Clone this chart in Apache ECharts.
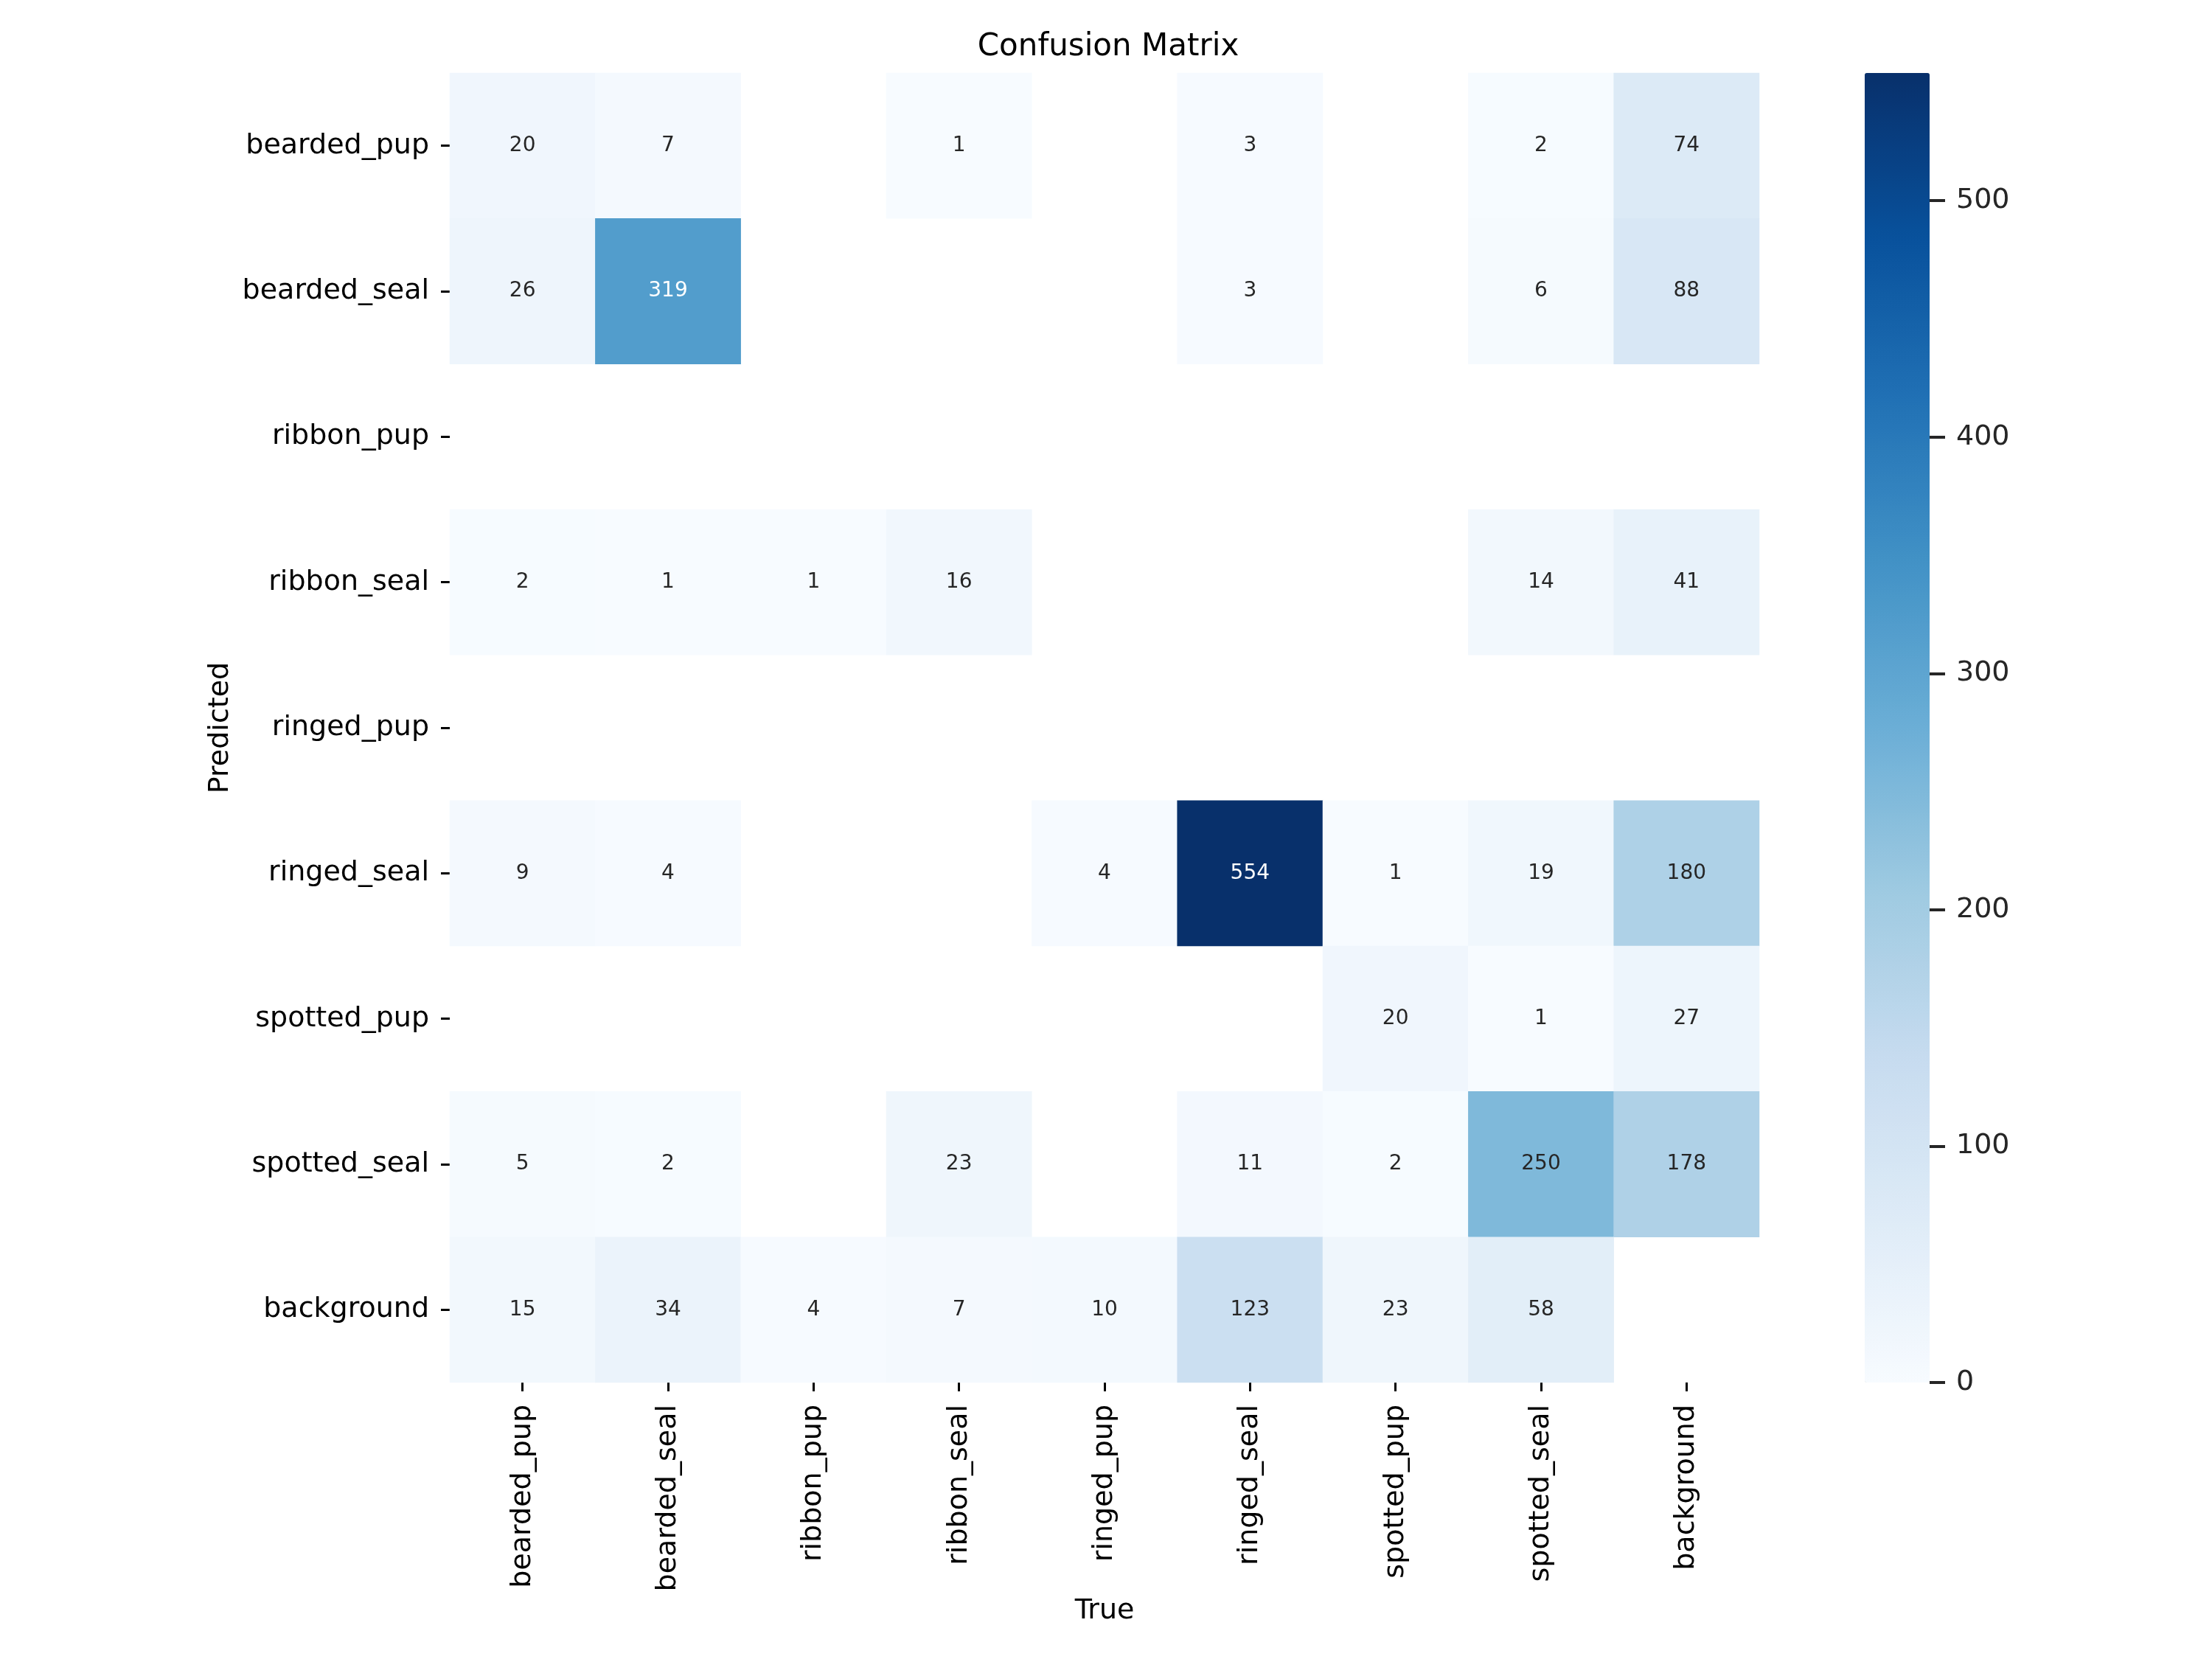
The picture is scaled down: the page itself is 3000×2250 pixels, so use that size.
<!DOCTYPE html>
<html>
<head>
<meta charset="utf-8">
<script src="https://cdn.jsdelivr.net/npm/echarts@6/dist/echarts.min.js"></script>
<style>
html, body { margin: 0; padding: 0; background: #ffffff; }
#chart { width: 3000px; height: 2250px; }
</style>
</head>
<body>
<div id="chart"></div>
<script>
// ---- Data ----
const trueLabels = ["bearded_pup", "bearded_seal", "ribbon_pup", "ribbon_seal", "ringed_pup", "ringed_seal", "spotted_pup", "spotted_seal", "background"];
const predictedLabels = ["bearded_pup", "bearded_seal", "ribbon_pup", "ribbon_seal", "ringed_pup", "ringed_seal", "spotted_pup", "spotted_seal", "background"];
// rows = predicted, columns = true; 0 = empty cell
const rowBeardedPup   = [20, 7, 0, 1, 0, 3, 0, 2, 74];
const rowBeardedSeal  = [26, 319, 0, 0, 0, 3, 0, 6, 88];
const rowRibbonPup    = [0, 0, 0, 0, 0, 0, 0, 0, 0];
const rowRibbonSeal   = [2, 1, 1, 16, 0, 0, 0, 14, 41];
const rowRingedPup    = [0, 0, 0, 0, 0, 0, 0, 0, 0];
const rowRingedSeal   = [9, 4, 0, 0, 4, 554, 1, 19, 180];
const rowSpottedPup   = [0, 0, 0, 0, 0, 0, 20, 1, 27];
const rowSpottedSeal  = [5, 2, 0, 23, 0, 11, 2, 250, 178];
const rowBackground   = [15, 34, 4, 7, 10, 123, 23, 58, 0];
const matrix = [rowBeardedPup, rowBeardedSeal, rowRibbonPup, rowRibbonSeal, rowRingedPup, rowRingedSeal, rowSpottedPup, rowSpottedSeal, rowBackground];
const colorbarMin = 0;
const colorbarMax = 554;
const colorbarInterval = 100;

// Matplotlib "Blues" colormap stops
const blues = ['#f7fbff', '#deebf7', '#c6dbef', '#9ecae1', '#6baed6', '#4292c6', '#2171b5', '#08519c', '#08306b'];

const FONT = 'DejaVu Sans';
const heatData = [];
matrix.forEach(function (row, i) {
  row.forEach(function (v, j) {
    if (v > 0) {
      heatData.push({
        value: [j, i, v],
        label: { color: v > colorbarMax * 0.5 ? '#ffffff' : '#262626' }
      });
    }
  });
});

const chart = echarts.init(document.getElementById('chart'), null, { renderer: 'canvas' });
chart.setOption({
  backgroundColor: '#ffffff',
  animation: false,
  textStyle: { fontFamily: FONT },
  title: {
    text: 'Confusion Matrix',
    left: 1498,
    textAlign: 'center',
    top: 38,
    textStyle: { fontFamily: FONT, fontSize: 42, fontWeight: 'normal', color: '#000000' }
  },
  grid: [
    { left: 610, top: 99, width: 1776, height: 1776, containLabel: false },
    { left: 2529, top: 99, width: 88, height: 1776, containLabel: false }
  ],
  xAxis: [
    {
      type: 'category',
      gridIndex: 0,
      data: trueLabels,
      position: 'bottom',
      name: 'True',
      nameLocation: 'middle',
      nameGap: 290,
      nameTextStyle: { fontFamily: FONT, fontSize: 38, color: '#000000' },
      axisLine: { show: false },
      axisTick: { show: true, alignWithLabel: true, length: 12, lineStyle: { color: '#000000', width: 3 } },
      axisLabel: { rotate: 90, fontSize: 38, color: '#000000', margin: 30, fontFamily: FONT },
      splitLine: { show: false },
      splitArea: { show: false }
    },
    {
      type: 'value',
      gridIndex: 1,
      show: false,
      min: 0,
      max: 1
    }
  ],
  yAxis: [
    {
      type: 'category',
      gridIndex: 0,
      data: predictedLabels,
      inverse: true,
      name: 'Predicted',
      nameLocation: 'middle',
      nameRotate: 90,
      nameGap: 290,
      nameTextStyle: { fontFamily: FONT, fontSize: 38, color: '#000000' },
      axisLine: { show: false },
      axisTick: { show: true, alignWithLabel: true, length: 12, lineStyle: { color: '#000000', width: 3 } },
      axisLabel: { fontSize: 38, color: '#000000', margin: 28, fontFamily: FONT },
      splitLine: { show: false },
      splitArea: { show: false }
    },
    {
      type: 'value',
      gridIndex: 1,
      position: 'right',
      min: colorbarMin,
      max: colorbarMax,
      interval: colorbarInterval,
      z: 10,
      axisLine: { show: false, onZero: false },
      axisTick: { show: true, inside: false, length: 21, lineStyle: { color: '#262626', width: 4 } },
      axisLabel: { fontSize: 38, color: '#262626', margin: 36, fontFamily: FONT,
        showMaxLabel: false },
      splitLine: { show: false }
    }
  ],
  visualMap: {
    type: 'continuous',
    seriesIndex: 0,
    min: colorbarMin,
    max: colorbarMax,
    calculable: false,
    hoverLink: false,
    orient: 'vertical',
    left: 2529,
    top: 99,
    itemWidth: 88,
    itemHeight: 1776,
    padding: 0,
    text: null,
    showLabel: false,
    inRange: { color: blues }
  },
  series: [
    {
      type: 'heatmap',
      xAxisIndex: 0,
      yAxisIndex: 0,
      data: heatData,
      label: {
        show: true,
        fontSize: 28,
        fontFamily: FONT,
        formatter: function (p) { return String(p.value[2]); }
      },
      itemStyle: { borderWidth: 0 },
      emphasis: { disabled: true }
    },
    {
      type: 'scatter',
      xAxisIndex: 1,
      yAxisIndex: 1,
      data: [],
      silent: true
    }
  ]
});
</script>
</body>
</html>
